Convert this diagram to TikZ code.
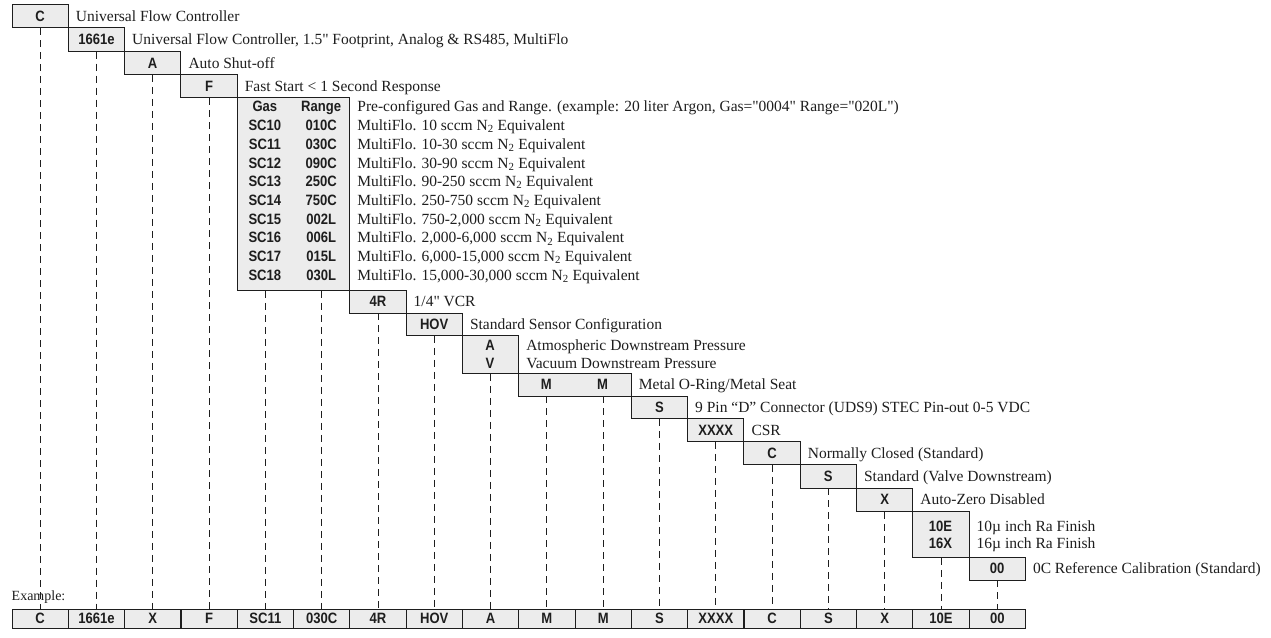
\documentclass[tikz,border=0pt]{standalone}
\usepackage{fontspec}
\setmainfont{Liberation Serif}
\newfontfamily\lblfont[FakeStretch=0.87]{Liberation Sans}
\definecolor{boxfill}{RGB}{236,236,236}
\definecolor{ink}{RGB}{30,30,30}
\newcommand\lblsty{\lblfont\bfseries\fontsize{15}{17}\selectfont}
\newcommand\descsty{\fontsize{15.5}{17}\selectfont}
\newcommand\qd{\textquotedbl}
\begin{document}
\begin{tikzpicture}[x=1pt,y=-1pt,
  box/.style={draw=ink, fill=boxfill, line width=0.9pt, inner sep=0pt, minimum width=56.3pt, anchor=north west, font=\lblsty, text=ink, text height=10.5pt, text depth=0pt},
  lbl/.style={inner sep=0pt, font=\lblsty, text=ink, text height=10.5pt, text depth=0pt},
  desc/.style={inner sep=0pt, anchor=base west, font=\descsty, text=ink},
  dashline/.style={draw=ink, line width=0.9pt, dash pattern=on 7pt off 5pt},
  excell/.style={box, minimum height=19pt, line width=1.1pt}
]
\fill[white] (0,0) rectangle (1271,637);
\useasboundingbox (0,0) rectangle (1271,637);

% top staircase
\node[box, minimum height=23.3pt] (b1) at (11.5,4) {C};
\node[desc, xshift=7pt] (d1) at (b1.base east) {Universal Flow Controller};
\node[box, minimum height=23.4pt] (b2) at (67.8,27.3) {1661e};
\node[desc, xshift=7pt] (d2) at (b2.base east) {Universal Flow Controller, 1.5\qd{} Footprint, Analog \& RS485, MultiFlo};
\node[box, minimum height=23.3pt] (b3) at (124.1,50.7) {A};
\node[desc, xshift=7pt] (d3) at (b3.base east) {Auto Shut-off};
\node[box, minimum height=23.3pt] (b4) at (180.4,74) {F};
\node[desc, xshift=7pt] (d4) at (b4.base east) {Fast Start < 1 Second Response};

% gas / range table
\node[box, minimum width=112.6pt, minimum height=192.7pt] (b5) at (236.7,97.3) {};
\node[lbl] (g0) at (264.85,106.7) {Gas};
\node[lbl] (r0) at (321.15,106.7) {Range};
\node[desc, xshift=7pt] (t0) at (r0.base -| b5.east) {Pre-configured Gas and Range. (example: 20 liter Argon, Gas=\qd0004\qd{} Range=\qd020L\qd)};
\foreach \ii/\gs/\rs/\ds in {1/SC10/010C/{10}, 2/SC11/030C/{10-30}, 3/SC12/090C/{30-90}, 4/SC13/250C/{90-250}, 5/SC14/750C/{250-750}, 6/SC15/002L/{750-2,000}, 7/SC16/006L/{2,000-6,000}, 8/SC17/015L/{6,000-15,000}, 9/SC18/030L/{15,000-30,000}} {
  \node[lbl] (g\ii) at (264.85,{106.7+18.7*\ii}) {\gs};
  \node[lbl] (r\ii) at (321.15,{106.7+18.7*\ii}) {\rs};
  \node[desc, xshift=7pt] (t\ii) at (r\ii.base -| b5.east) {MultiFlo. \ds\ sccm N\textsubscript{2} Equivalent};
}

% lower staircase
\node[box, minimum height=22.5pt] (b6) at (349.3,290) {4R};
\node[desc, xshift=7pt] (d6) at (b6.base east) {1/4\qd{} VCR};
\node[box, minimum height=22.5pt] (b7) at (405.6,312.5) {HOV};
\node[desc, xshift=7pt] (d7) at (b7.base east) {Standard Sensor Configuration};
\node[box, minimum height=38pt] (b8) at (461.9,335) {};
\node[lbl] (a1) at (490.05,345) {A};
\node[lbl] (a2) at (490.05,363.5) {V};
\node[desc, xshift=7pt] (d8a) at (a1.base -| b8.east) {Atmospheric Downstream Pressure};
\node[desc, xshift=7pt] (d8b) at (a2.base -| b8.east) {Vacuum Downstream Pressure};
\node[box, minimum width=112.6pt, minimum height=22.5pt] (b9) at (518.2,373) {};
\node[lbl] (m1) at (546.35,384.25) {M};
\node[lbl] (m2) at (602.65,384.25) {M};
\node[desc, xshift=7pt] (d9) at (m2.base -| b9.east) {Metal O-Ring/Metal Seat};
\node[box, minimum height=22.5pt] (b10) at (630.8,395.5) {S};
\node[desc, xshift=7pt] (d10) at (b10.base east) {9 Pin “D” Connector (UDS9) STEC Pin-out 0-5 VDC};
\node[box, minimum height=23pt] (b11) at (687.1,418) {XXXX};
\node[desc, xshift=7pt] (d11) at (b11.base east) {CSR};
\node[box, minimum height=23pt] (b12) at (743.4,441) {C};
\node[desc, xshift=7pt] (d12) at (b12.base east) {Normally Closed (Standard)};
\node[box, minimum height=23.5pt] (b13) at (799.7,464) {S};
\node[desc, xshift=7pt] (d13) at (b13.base east) {Standard (Valve Downstream)};
\node[box, minimum height=23.5pt] (b14) at (856.0,487.5) {X};
\node[desc, xshift=7pt] (d14) at (b14.base east) {Auto-Zero Disabled};
\node[box, minimum height=46pt] (b15) at (912.3,511) {};
\node[lbl] (p1) at (940.45,526.7) {10E};
\node[lbl] (p2) at (940.45,543.3) {16X};
\node[desc, xshift=7pt] (d15a) at (p1.base -| b15.east) {10µ inch Ra Finish};
\node[desc, xshift=7pt] (d15b) at (p2.base -| b15.east) {16µ inch Ra Finish};
\node[box, minimum height=22.5pt] (b16) at (968.6,557) {00};
\node[desc, xshift=7pt] (d16) at (b16.base east) {0C Reference Calibration (Standard)};

% example row
\node[desc, font=\fontsize{14}{16}\selectfont] (ex) at (11.5,600) {Example:};
\foreach \ii/\lab in {0/C,1/1661e,2/X,3/F,4/SC11,5/030C,6/4R,7/HOV,8/A,9/M,10/M,11/S,12/XXXX,13/C,14/S,15/X,16/10E,17/00}
  \node[excell] (e\ii) at ({11.5+56.3*\ii},608.5) {\lab};

% dashed connectors
\foreach \ii/\bb in {0/b1,1/b2,2/b3,3/b4,4/b5,5/b5,6/b6,7/b7,8/b8,9/b9,10/b9,11/b10,12/b11,13/b12,14/b13,15/b14,16/b15,17/b16}
  \draw[dashline] (\bb.south -| e\ii.north) -- (e\ii.north);
\end{tikzpicture}
\end{document}
